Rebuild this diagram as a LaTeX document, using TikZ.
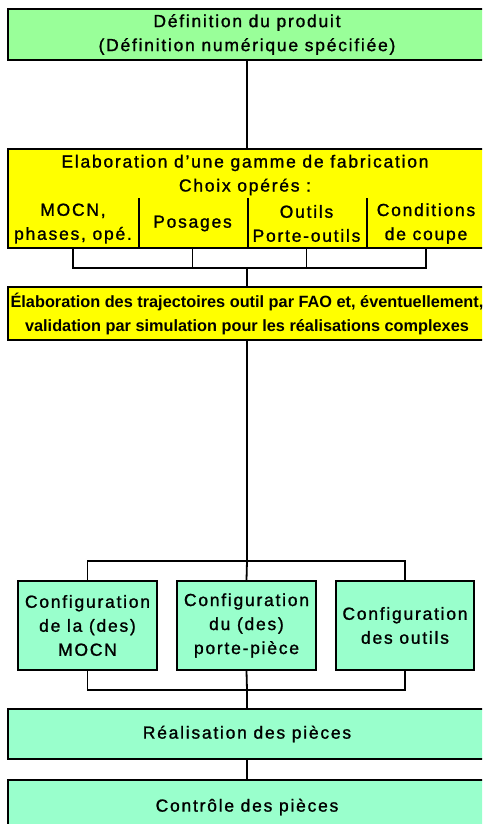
\documentclass[tikz,border=0pt]{standalone}
\usepackage{fontspec}
\setmainfont{Liberation Sans}[LetterSpace=10,FakeBold=1.2]
\newfontfamily\narrowfont{Liberation Sans Bold}
\usetikzlibrary{calc}

\definecolor{prodgreen}{RGB}{153,255,153}
\definecolor{cfgaqua}{RGB}{153,255,204}
\definecolor{gammeyellow}{RGB}{255,255,0}

\begin{document}
\begin{tikzpicture}[x=1pt,y=-1pt,line width=1.8pt,
	box/.style={draw,rectangle,align=center,inner sep=0pt,font=\fontsize{17.5}{24}\selectfont},
	greenbox/.style={box,fill=prodgreen},
	aquabox/.style={box,fill=cfgaqua},
	yellowbox/.style={box,fill=gammeyellow},
	cell/.style={rectangle,align=center,inner sep=0pt,minimum height=49pt,font=\fontsize{17.5}{24}\selectfont}]
	
	% fix the frame and cut what runs off the page
	\useasboundingbox (0,0) rectangle (482,824);
	\fill[white] (0,0) rectangle (482,824);
	\clip (0,0) rectangle (482,824);
	
	% definition of the product
	\node[greenbox,minimum width=478pt,minimum height=51pt] (prod) at (247,34.5)
		{D\'efinition du produit\\(D\'efinition num\'erique sp\'ecifi\'ee)};
	
	% process plan with its four choices
	\node[yellowbox,minimum width=478pt,minimum height=99pt] (gamme) at (247,198.5) {};
	\node[cell] (titre) at (245,175) {Elaboration d'une gamme de fabrication\\Choix op\'er\'es :};
	\node[cell,minimum width=130pt] (mocn) at (73,223.5) {MOCN,\\phases, op\'e.};
	\node[cell,minimum width=109pt] (posages) at (192.5,223.5) {Posages};
	\node[cell,minimum width=119pt] (outils) at (306.5,223.5) {Outils\\Porte-outils};
	\node[cell,minimum width=120pt] (coupe) at (426,223.5) {Conditions\\de coupe};
	\draw (mocn.north east) -- (mocn.south east);
	\draw (posages.north east) -- (posages.south east);
	\draw (outils.north east) -- (outils.south east);
	
	% tool paths by CAM
	\node[yellowbox,minimum width=478pt,minimum height=53pt] (fao) at (247,313.5)
		{\narrowfont\fontsize{16.3}{24}\selectfont \'Elaboration des trajectoires outil par FAO et, \'eventuellement,\\
		 \narrowfont\fontsize{16.3}{24}\selectfont validation par simulation pour les r\'ealisations complexes};
	
	% the three set-ups
	\node[aquabox,minimum width=139pt,minimum height=89pt] (cfgm) at (87.5,625.5)
		{Configuration\\de la (des)\\MOCN};
	\node[aquabox,minimum width=139pt,minimum height=89pt] (cfgp) at (246.5,625.5)
		{Configuration\\du (des)\\porte-pi\`ece};
	\node[aquabox,minimum width=138pt,minimum height=89pt] (cfgo) at (405,625.5)
		{Configuration\\des outils};
	
	% making and checking the parts
	\node[aquabox,minimum width=478pt,minimum height=50pt] (real) at (247,734) {R\'ealisation des pi\`eces};
	\node[aquabox,minimum width=478pt,minimum height=54pt] (ctrl) at (247,807) {Contr\^ole des pi\`eces};
	
	% connectors
	\draw (prod.south) -- (gamme.north);
	
	\coordinate (jg) at (247,268);
	\draw (mocn.south) -- (mocn.south |- jg) -| (coupe.south);
	\draw (posages.south) -- (posages.south |- jg);
	\draw (outils.south) -- (outils.south |- jg);
	\draw (jg) -- (fao.north);
	
	\coordinate (jc) at (247,561);
	\draw (fao.south) -- (jc);
	\draw (cfgm.north) -- (cfgm.north |- jc) -| (cfgo.north);
	\draw (jc) -- (cfgp.north);
	
	\coordinate (jr) at (247,690);
	\draw (cfgm.south) -- (cfgm.south |- jr) -| (cfgo.south);
	\draw (cfgp.south) -- (jr);
	\draw (jr) -- (real.north);
	
	\draw (real.south) -- (ctrl.north);
	
\end{tikzpicture}
\end{document}
